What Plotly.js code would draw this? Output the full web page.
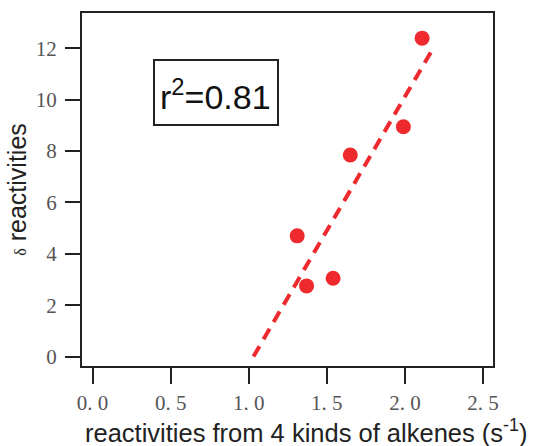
<!DOCTYPE html>
<html>
<head>
<meta charset="utf-8">
<script src="https://cdn.plot.ly/plotly-3.0.1.min.js"></script>
<style>html,body{margin:0;padding:0;background:#fff;}#chart{width:536px;height:446px;}</style>
</head>
<body>
<div id="chart"></div>
<script>
// Data
var xValues = [1.31, 1.37, 1.54, 1.65, 1.99, 2.11];
var yValues = [4.70, 2.75, 3.05, 7.85, 8.95, 12.40];
var fitX = [1.03, 2.18];
var fitY = [0, 12];
var xTickVals = [0, 0.5, 1, 1.5, 2, 2.5];
var xTickText = ['0. 0', '0. 5', '1. 0', '1. 5', '2. 0', '2. 5'];
var yTickVals = [0, 2, 4, 6, 8, 10, 12];
var rSquared = '0.81';
var xTitle = 'reactivities from 4 kinds of alkenes (s<sup>-1</sup>)';

var red = '#ee2a2e';
var dark = '#222222';

var traces = [
  {
    x: fitX, y: fitY, type: 'scatter', mode: 'lines',
    line: {color: red, width: 4, dash: '12px,8px'},
    hoverinfo: 'skip', showlegend: false
  },
  {
    x: xValues, y: yValues, type: 'scatter', mode: 'markers',
    marker: {color: red, size: 15},
    showlegend: false
  }
];

var layout = {
  width: 536, height: 446,
  margin: {l: 82, r: 43, t: 13, b: 80},
  paper_bgcolor: '#fff', plot_bgcolor: '#fff',
  showlegend: false,
  xaxis: {
    range: [-0.068, 2.564],
    tickvals: xTickVals, ticktext: xTickText,
    ticks: 'outside', ticklen: 16, tickwidth: 2, tickcolor: dark,
    showline: true, linecolor: dark, linewidth: 2, mirror: true,
    showgrid: false, zeroline: false,
    ticklabelstandoff: 1,
    tickfont: {family: 'Liberation Serif, serif', size: 21, color: '#555'}
  },
  yaxis: {
    range: [-0.37, 13.38],
    tickvals: yTickVals,
    ticks: 'outside', ticklen: 15, tickwidth: 2, tickcolor: dark,
    showline: true, linecolor: dark, linewidth: 2, mirror: true,
    showgrid: false, zeroline: false,
    ticklabelstandoff: 4,
    tickfont: {family: 'Liberation Serif, serif', size: 21, color: '#555'},
    title: {text: '<span style="font-family:Liberation Serif;font-size:16px">δ</span> reactivities',
            font: {family: 'Liberation Sans, Arial, sans-serif', size: 25, color: '#222'},
            standoff: 2}
  },
  shapes: [{
    type: 'rect', xref: 'paper', yref: 'paper',
    x0: (154 - 82) / 411, x1: (278 - 82) / 411,
    y0: (366 - 125) / 353, y1: (366 - 60) / 353,
    line: {color: dark, width: 2}, fillcolor: 'rgba(0,0,0,0)'
  }],
  annotations: [
    {
      xref: 'paper', yref: 'paper',
      x: (215 - 82) / 411, y: (366 - 94) / 353,
      xanchor: 'center', yanchor: 'middle',
      text: 'r<sup>2</sup>=' + rSquared,
      showarrow: false,
      font: {family: 'Liberation Sans, Arial, sans-serif', size: 34, color: '#111'}
    },
    {
      xref: 'paper', yref: 'paper',
      x: (306 - 82) / 411, y: (366 - 431) / 353,
      xanchor: 'center', yanchor: 'middle',
      text: xTitle,
      showarrow: false,
      font: {family: 'Liberation Sans, Arial, sans-serif', size: 25.5, color: '#222'}
    }
  ]
};

Plotly.newPlot('chart', traces, layout, {displayModeBar: false, staticPlot: true});
</script>
</body>
</html>
